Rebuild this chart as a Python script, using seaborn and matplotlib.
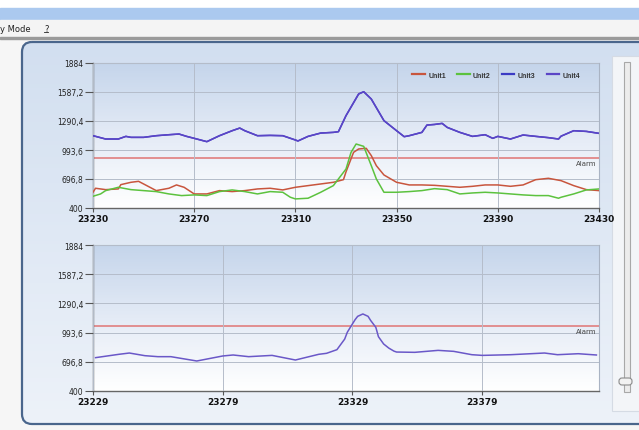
import numpy as np
import matplotlib
matplotlib.use("Agg")
import matplotlib.pyplot as plt
import seaborn as sns
from matplotlib.patches import Rectangle, FancyBboxPatch
from matplotlib.lines import Line2D
from matplotlib.colors import LinearSegmentedColormap

# ---- data ----
y_ticks = [400, 696.8, 993.6, 1290.4, 1587.2, 1884]
y_labels = ["400", "696,8", "993,6", "1290,4", "1587,2", "1884"]

top_xticks = [23230, 23270, 23310, 23350, 23390, 23430]
bottom_xticks = [23229, 23279, 23329, 23379]

top_alarm = 908
bottom_alarm = 1065

unit1_x = [23230, 23231, 23235, 23240, 23241, 23245, 23248, 23250, 23255, 23260, 23263, 23266,
           23270, 23275, 23280, 23285, 23290, 23295, 23300, 23305, 23310, 23315, 23320, 23325,
           23329, 23330, 23333, 23335, 23338, 23340, 23342, 23345, 23350, 23355, 23360, 23365,
           23370, 23375, 23380, 23385, 23390, 23395, 23400, 23405, 23410, 23415, 23420, 23425, 23430]
unit1_y = [561, 602, 588, 595, 639, 663, 673, 646, 578, 602, 636, 612,
           544, 544, 578, 568, 578, 595, 602, 585, 612, 629, 646, 663,
           690, 770, 970, 1004, 1011, 936, 833, 738, 663, 636, 636, 632,
           622, 612, 622, 636, 636, 622, 636, 690, 704, 680, 629, 588, 578]

unit2_x = [23230, 23233, 23235, 23240, 23245, 23250, 23255, 23260, 23265, 23270, 23275, 23280,
           23285, 23290, 23295, 23300, 23305, 23308, 23310, 23315, 23320, 23325, 23328, 23330,
           23332, 23334, 23337, 23340, 23342, 23345, 23350, 23355, 23360, 23365, 23370, 23375,
           23380, 23385, 23390, 23395, 23400, 23405, 23410, 23414, 23415, 23420, 23425, 23430]
unit2_y = [520, 544, 578, 612, 588, 578, 568, 544, 527, 534, 527, 568,
           585, 568, 544, 568, 561, 510, 493, 500, 561, 629, 731, 799,
           970, 1055, 1031, 833, 697, 561, 561, 568, 578, 598, 588, 544,
           554, 561, 554, 544, 534, 527, 527, 500, 510, 544, 585, 595]

unit3_x = [23230, 23235, 23240, 23243, 23245, 23250, 23255, 23260, 23264, 23267, 23270, 23275,
           23280, 23285, 23288, 23290, 23295, 23300, 23305, 23310, 23311, 23315, 23320, 23325,
           23327, 23330, 23335, 23337, 23340, 23345, 23350, 23353, 23355, 23360, 23362, 23365,
           23368, 23370, 23375, 23380, 23385, 23388, 23390, 23395, 23400, 23405, 23410, 23414,
           23415, 23420, 23425, 23430]
unit3_y = [1140, 1106, 1106, 1133, 1123, 1123, 1140, 1150, 1157, 1133, 1113, 1079,
           1140, 1191, 1218, 1191, 1140, 1143, 1140, 1096, 1086, 1133, 1167, 1174,
           1181, 1345, 1567, 1590, 1515, 1294, 1191, 1130, 1140, 1174, 1249, 1255,
           1266, 1225, 1174, 1133, 1150, 1113, 1133, 1106, 1147, 1133, 1120, 1106,
           1135, 1191, 1184, 1164]

# Unit4 sits on top of Unit3 in the screenshot
unit4_x = unit3_x
unit4_y = unit3_y

smooth_x = [23230, 23239, 23243, 23249, 23254, 23259, 23269, 23279, 23283, 23289, 23298, 23307,
            23316, 23319, 23323, 23326, 23327, 23328, 23330, 23331, 23333, 23335, 23336, 23338,
            23339, 23341, 23343, 23345, 23346, 23353, 23362, 23368, 23375, 23379, 23390, 23403,
            23408, 23416, 23423]
smooth_y = [739, 773, 786, 759, 749, 749, 705, 756, 766, 749, 762, 715,
            773, 783, 820, 928, 997, 1040, 1125, 1159, 1183, 1159, 1117, 1047,
            952, 878, 836, 805, 796, 793, 813, 803, 769, 762, 769, 786,
            769, 779, 766]

colors = {"Unit1": "#c8553d", "Unit2": "#5cc23e", "Unit3": "#3b3bc4", "Unit4": "#5b45c6"}

W, H = 639, 431
fig = plt.figure(figsize=(W / 100, H / 100), dpi=100)
fig.patch.set_facecolor("#f6f6f6")

# ---- window chrome ----
bg = fig.add_axes([0, 0, 1, 1])
bg.set_xlim(0, W)
bg.set_ylim(H, 0)
bg.axis("off")
bg.add_patch(Rectangle((0, 0), W, 9, color="white"))
bg.add_patch(Rectangle((0, 9), W, 12, color="#abc9ef"))
bg.add_patch(Rectangle((0, 21), W, 17, color="#f4f4f4"))
bg.add_patch(Rectangle((0, 38), W, 2, color="#9a9a9a"))
bg.text(0, 29, "y Mode", fontsize=6, color="#222222", va="center", ha="left")
bg.text(44, 29, "?", fontsize=6, color="#222222", va="center", ha="left")
bg.plot([44, 48], [32.5, 32.5], color="#222222", lw=0.6)

panel = FancyBboxPatch((22, 43), 720, 382, boxstyle="round,pad=0,rounding_size=10",
                       fc="none", ec="#4a668c", lw=1.6, zorder=3)
pcmap = LinearSegmentedColormap.from_list("panel", ["#d2dff0", "#edf2f9"])
im = bg.imshow(np.linspace(0, 1, 100)[:, None], cmap=pcmap, aspect="auto",
               extent=(22, 742, 425, 43), origin="upper", zorder=1)
bg.add_patch(panel)
im.set_clip_path(panel)
bg.set_xlim(0, W)
bg.set_ylim(H, 0)

# slider on the right
bg.add_patch(Rectangle((612, 57), 30, 355, fc="#f3f5f8", ec="#d5dbe4", lw=0.8, zorder=4))
bg.add_patch(Rectangle((624, 63), 6, 330, fc="#ececec", ec="#a8a8a8", lw=0.8, zorder=5))
bg.add_patch(FancyBboxPatch((619, 379), 13, 7, boxstyle="round,pad=0,rounding_size=3",
                            fc="#f2f2f2", ec="#8a8a8a", lw=0.8, zorder=6))

acmap = LinearSegmentedColormap.from_list("plotbg", ["#c5d5eb", "#e4ebf6", "#ffffff"])


def style_axes(ax, xticks, xlim, alarm):
    ax.set_facecolor("none")
    ax.imshow(np.linspace(0, 1, 100)[:, None], cmap=acmap, aspect="auto",
              extent=(0, 1, 0, 1), transform=ax.transAxes, zorder=0)
    ax.set_xlim(*xlim)
    ax.set_ylim(400, 1884)
    ax.set_yticks(y_ticks)
    ax.set_yticklabels(y_labels)
    ax.set_xticks(xticks)
    ax.set_xticklabels([str(t) for t in xticks])
    ax.grid(True, color="#b5bdca", lw=0.7, zorder=1)
    ax.set_axisbelow(False)
    for s in ["left", "bottom"]:
        ax.spines[s].set_color("#666666")
        ax.spines[s].set_linewidth(1.0)
    for s in ["top", "right"]:
        ax.spines[s].set_color("#a9b3c3")
        ax.spines[s].set_linewidth(0.8)
    ax.tick_params(axis="y", direction="out", length=6, width=0.8, color="#555555",
                   labelsize=5.5, labelcolor="#222222", pad=1)
    ax.tick_params(axis="x", direction="out", length=3, width=0.8, color="#555555",
                   labelsize=6.5, labelcolor="#111111", pad=1.5)
    for lab in ax.get_xticklabels():
        lab.set_fontweight("bold")
    ax.set_xlabel("")
    ax.set_ylabel("")
    ax.axhline(alarm, color="#e07474", lw=1.1, zorder=2)
    ax.annotate("Alarm", xy=(1, alarm), xycoords=("axes fraction", "data"),
                xytext=(-2, -1.5), textcoords="offset points", ha="right", va="top",
                fontsize=5, color="#444444")


# ---- top chart ----
ax1 = fig.add_axes([93 / W, (H - 209) / H, 506 / W, 145 / H])
sns.lineplot(x=unit1_x, y=unit1_y, color=colors["Unit1"], lw=1.1, ax=ax1, zorder=3)
sns.lineplot(x=unit2_x, y=unit2_y, color=colors["Unit2"], lw=1.1, ax=ax1, zorder=3)
sns.lineplot(x=unit3_x, y=unit3_y, color=colors["Unit3"], lw=1.1, ax=ax1, zorder=3)
sns.lineplot(x=unit4_x, y=unit4_y, color=colors["Unit4"], lw=1.1, ax=ax1, zorder=3)
style_axes(ax1, top_xticks, (23230, 23430), top_alarm)

handles = [Line2D([], [], color=c, lw=1.6) for c in colors.values()]
leg = ax1.legend(handles, list(colors.keys()), ncol=4, loc="center right",
                 bbox_to_anchor=(0.975, 0.917), frameon=False,
                 prop={"family": "Liberation Sans", "weight": "bold", "size": 5},
                 handlelength=1.8, handletextpad=0.5, columnspacing=1.6)
for t in leg.get_texts():
    t.set_color("#333333")

# ---- bottom chart ----
ax2 = fig.add_axes([93 / W, (H - 392) / H, 506 / W, 146 / H])
sns.lineplot(x=smooth_x, y=smooth_y, color="#6a58c8", lw=1.1, ax=ax2, zorder=3)
style_axes(ax2, bottom_xticks, (23229, 23424), bottom_alarm)

fig.savefig("out.png", dpi=100)
